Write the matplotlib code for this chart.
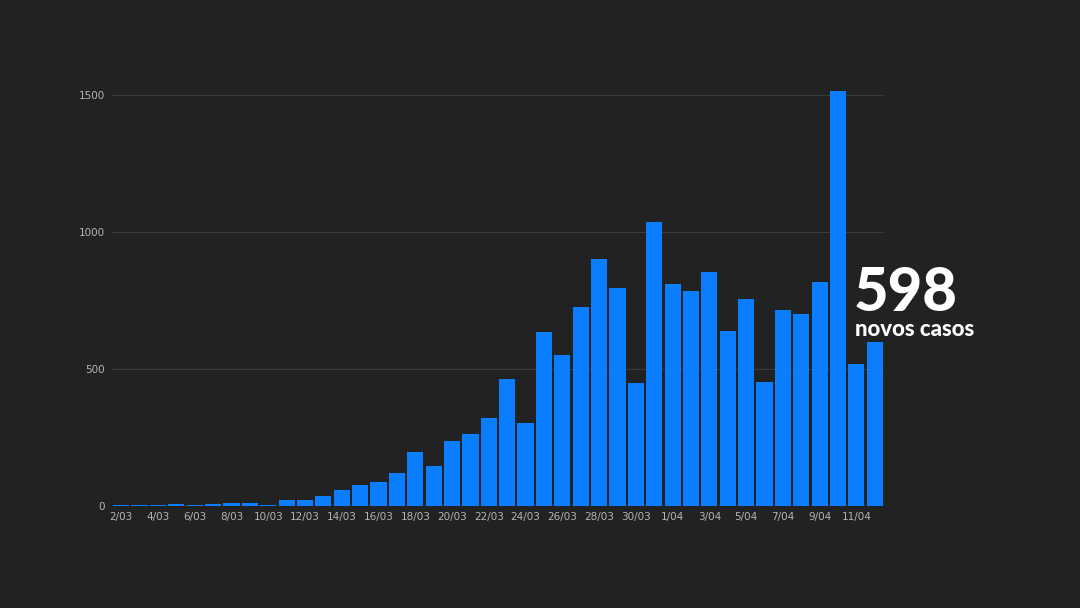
import matplotlib
matplotlib.use("Agg")
import matplotlib.pyplot as plt

# novos casos por dia, 2/03 a 12/04
dias = [f"{d}/03" for d in range(2, 32)] + [f"{d}/04" for d in range(1, 13)]
casos = [2, 2, 2, 6, 5, 9, 12, 12, 4, 22, 22, 36, 60, 77, 88, 119, 197, 145, 237, 263,
         322, 462, 304, 635, 551, 726, 903, 795, 449, 1035, 809, 785, 854, 640, 755, 454,
         714, 701, 816, 1516, 517, 598]
destaque = "598"
legenda = "novos casos"

fundo = "#222222"
azul = "#0a7eff"

fig = plt.figure(figsize=(10.8, 6.08), dpi=100, facecolor=fundo)
ax = fig.add_axes([0.1037, 0.1678, 0.7148, 0.7210])
ax.set_facecolor(fundo)

x = list(range(len(casos)))
ax.bar(x, casos, width=0.88, color=azul, zorder=3)

ax.set_xlim(-0.5, len(casos) - 0.5)
ax.set_ylim(0, 1600)
ax.set_yticks([0, 500, 1000, 1500])
ax.set_xticks(x[::2])
ax.set_xticklabels(dias[::2])
ax.grid(axis="y", color="#3a3a3a", linewidth=0.8, zorder=0)
for s in ax.spines.values():
    s.set_visible(False)
ax.tick_params(length=0, colors="#b5b5b5", labelsize=7.5)
ax.tick_params(axis="x", pad=4)
ax.tick_params(axis="y", pad=5)

fig.text(854 / 1080, 1 - 321 / 608, destaque, color="white", fontsize=43,
         fontweight=900, family="Lato", ha="left", va="bottom")
fig.text(855 / 1080, 1 - 319 / 608, legenda, color="white", fontsize=16,
         fontweight=900, family="Lato", ha="left", va="top")

fig.savefig("out.png", dpi=100, facecolor=fundo)
